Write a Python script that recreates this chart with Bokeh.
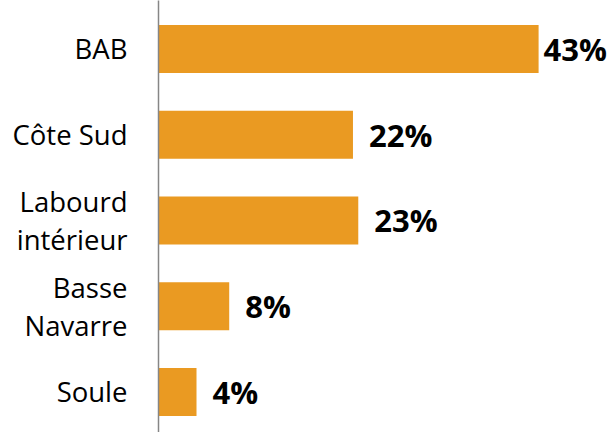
from bokeh.plotting import figure
from bokeh.models import ColumnDataSource, Range1d, FixedTicker
from bokeh.core.properties import value
from bokeh.embed import file_html
from bokeh.resources import INLINE

categories = ["BAB", "Côte Sud", "Labourd\nintérieur", "Basse\nNavarre", "Soule"]
values = [43, 22, 22.6, 8, 4.3]
labels = ["43%", "22%", "23%", "8%", "4%"]

idx = list(range(len(categories)))
vmax = max(values)
offsets = [5 if v == vmax else 16 for v in values]

src = ColumnDataSource(dict(y=idx, v=values, lab=labels, off=offsets))

p = figure(width=612, height=432, output_backend="svg", toolbar_location=None,
           x_range=Range1d(0, 51.36), y_range=Range1d(4.473, -0.565),
           min_border_left=158, min_border_right=0, min_border_top=0, min_border_bottom=0)

p.hbar(y="y", right="v", left=0, height=0.56, source=src, color="#EA9A22", line_color=None)
p.text(x="v", y="y", text="lab", source=src, x_offset="off", y_offset=0,
       text_font=value("Open Sans"), text_font_style="bold", text_font_size="31px",
       text_baseline="middle", text_align="left", text_color="#000000")

p.xaxis.visible = False
p.xgrid.visible = False
p.ygrid.visible = False
p.outline_line_color = None

ya = p.yaxis[0]
ya.ticker = FixedTicker(ticks=idx)
ya.major_label_overrides = {i: c for i, c in zip(idx, categories)}
ya.major_tick_line_color = None
ya.minor_tick_line_color = None
ya.axis_line_color = "#868686"
ya.axis_line_width = 1.5
ya.major_label_standoff = 25
ya.major_label_text_font = "Open Sans"
ya.major_label_text_font_size = "27.5px"
ya.major_label_text_color = "#000000"
ya.major_label_text_line_height = 1.02
ya.major_label_text_align = "center"

open("out.html", "w").write(file_html(p, INLINE))
